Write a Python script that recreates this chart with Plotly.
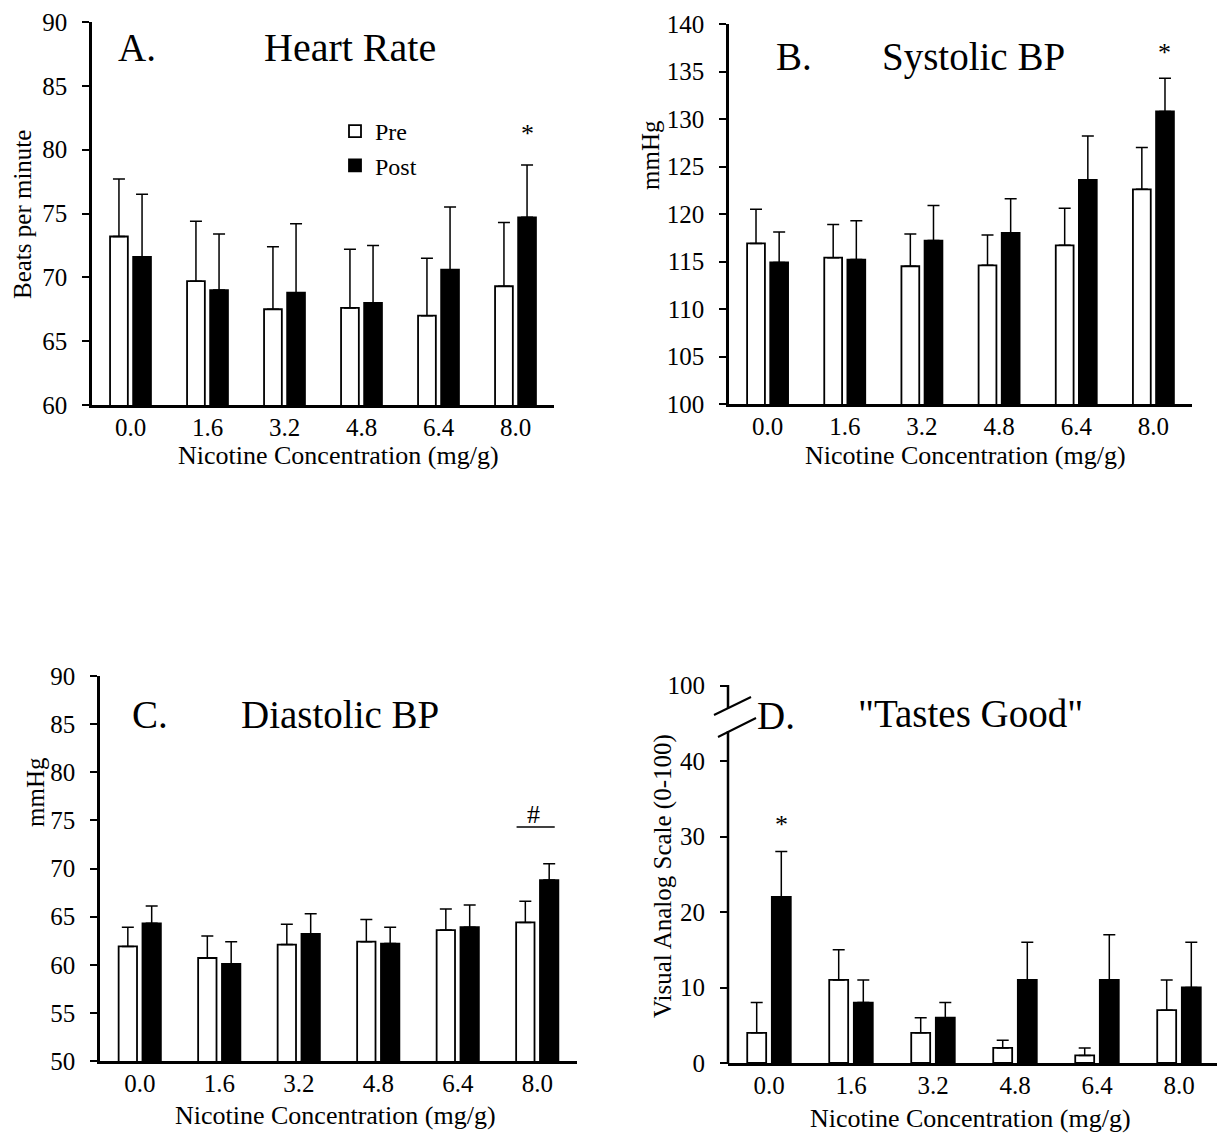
import plotly.graph_objects as go

# ---------------- data ----------------
categories = ["0.0", "1.6", "3.2", "4.8", "6.4", "8.0"]

hr_pre = [73.2, 69.7, 67.5, 67.6, 67.0, 69.3]
hr_pre_sem = [4.5, 4.7, 4.9, 4.6, 4.5, 5.0]
hr_post = [71.6, 69.0, 68.8, 68.0, 70.6, 74.7]
hr_post_sem = [4.9, 4.4, 5.4, 4.5, 4.9, 4.1]

sbp_pre = [116.9, 115.4, 114.5, 114.6, 116.7, 122.6]
sbp_pre_sem = [3.6, 3.5, 3.4, 3.2, 3.9, 4.4]
sbp_post = [114.9, 115.2, 117.2, 118.0, 123.6, 130.8]
sbp_post_sem = [3.2, 4.1, 3.7, 3.6, 4.6, 3.5]

dbp_pre = [61.9, 60.7, 62.1, 62.4, 63.6, 64.4]
dbp_pre_sem = [2.0, 2.3, 2.1, 2.3, 2.2, 2.2]
dbp_post = [64.3, 60.1, 63.2, 62.2, 63.9, 68.8]
dbp_post_sem = [1.8, 2.3, 2.1, 1.7, 2.3, 1.7]

vas_pre = [4, 11, 4, 2, 1, 7]
vas_pre_sem = [4, 4, 2, 1, 1, 4]
vas_post = [22, 8, 6, 11, 11, 10]
vas_post_sem = [6, 3, 2, 5, 6, 6]

series_names = ["Pre", "Post"]

hr_ticks = [60, 65, 70, 75, 80, 85, 90]
sbp_ticks = [100, 105, 110, 115, 120, 125, 130, 135, 140]
dbp_ticks = [50, 55, 60, 65, 70, 75, 80, 85, 90]
vas_tickvals = [0, 10, 20, 30, 40, 50]
vas_ticktext = ["0", "10", "20", "30", "40", "100"]

# ---------------- layout helpers ----------------
W, H = 1225, 1136
OFF = 8  # page body margin offset
FONT = "Liberation Serif"


def X(px):
    return (px - OFF) / W


def Y(py):
    return 1 - (py - OFF) / H


fig = go.Figure()

panels = [
    (hr_pre, hr_pre_sem, hr_post, hr_post_sem, "", True),
    (sbp_pre, sbp_pre_sem, sbp_post, sbp_post_sem, "2", False),
    (dbp_pre, dbp_pre_sem, dbp_post, dbp_post_sem, "3", False),
    (vas_pre, vas_pre_sem, vas_post, vas_post_sem, "4", False),
]

for pre, pre_sem, post, post_sem, sfx, sl in panels:
    fig.add_trace(go.Bar(
        x=categories, y=pre, name=series_names[0], legendgroup="pre",
        showlegend=sl, xaxis="x" + sfx, yaxis="y" + sfx,
        marker=dict(color="white", line=dict(color="black", width=1.8)),
        error_y=dict(type="data", array=pre_sem, arrayminus=[0] * len(pre),
                     symmetric=False, color="black", thickness=1.5, width=6),
    ))
    fig.add_trace(go.Bar(
        x=categories, y=post, name=series_names[1], legendgroup="post",
        showlegend=sl, xaxis="x" + sfx, yaxis="y" + sfx,
        marker=dict(color="black", line=dict(color="black", width=1.8)),
        error_y=dict(type="data", array=post_sem, arrayminus=[0] * len(post),
                     symmetric=False, color="black", thickness=1.5, width=6),
    ))

tickfont = dict(family=FONT, size=25, color="black")


def xaxis(dom, anchor):
    return dict(domain=dom, anchor=anchor, type="category",
                range=[-0.5, 5.5], showline=True, linecolor="black",
                linewidth=2.5, ticks="", showgrid=False, zeroline=False,
                tickfont=tickfont, ticklabelstandoff=-2, fixedrange=True,
                automargin=False)


def yaxis(dom, anchor, rng, tickvals, ticktext=None, showline=True):
    d = dict(domain=dom, anchor=anchor, range=rng, tickvals=tickvals,
             showline=showline, linecolor="black", linewidth=2.5,
             ticks="outside", ticklen=7, tickwidth=2, tickcolor="black",
             showgrid=False, zeroline=False, tickfont=tickfont,
             ticklabelstandoff=10, fixedrange=True, automargin=False)
    if ticktext is not None:
        d["ticktext"] = ticktext
    return d


fig.update_layout(
    width=W, height=H,
    margin=dict(l=0, r=0, t=0, b=0, autoexpand=False),
    paper_bgcolor="white", plot_bgcolor="white",
    barmode="group", bargap=0.4, bargroupgap=0.23,
    font=dict(family=FONT, color="black"),
    xaxis=xaxis([X(92), X(554)], "y"),
    yaxis=yaxis([Y(405), Y(22)], "x", [60, 90], hr_ticks),
    xaxis2=xaxis([X(729), X(1192)], "y2"),
    yaxis2=yaxis([Y(404), Y(24)], "x2", [100, 140], sbp_ticks),
    xaxis3=xaxis([X(100), X(577)], "y3"),
    yaxis3=yaxis([Y(1061), Y(676)], "x3", [50, 90], dbp_ticks),
    xaxis4=xaxis([X(728), X(1220)], "y4"),
    yaxis4=yaxis([Y(1063), Y(685.5)], "x4", [0, 50], vas_tickvals,
                 vas_ticktext, showline=False),
    legend=dict(x=X(335), y=Y(109), xanchor="left", yanchor="top",
                font=dict(family=FONT, size=24, color="black"),
                bgcolor="rgba(0,0,0,0)", itemwidth=30,
                tracegroupgap=9, traceorder="normal"),
    showlegend=True,
)

ann = []


def text_px(txt, cx, cy, size, angle=0):
    ann.append(dict(text=txt, x=X(cx), y=Y(cy), xref="paper", yref="paper",
                    xanchor="center", yanchor="middle", showarrow=False,
                    textangle=angle,
                    font=dict(family=FONT, size=size, color="black")))


# panel labels & titles
text_px("A.", 137, 47, 39)
text_px("Heart Rate", 350, 47, 40)
text_px("B.", 794, 57, 39)
text_px("Systolic BP", 973, 57, 39)
text_px("C.", 150, 714, 39)
text_px("Diastolic BP", 340, 714, 39)
text_px("D.", 776, 715, 39)
text_px('"Tastes Good"', 970, 713, 39)

# axis titles
xt = "Nicotine Concentration (mg/g)"
text_px(xt, 338, 456, 26)
text_px(xt, 965, 455, 26)
text_px(xt, 335, 1115, 26)
text_px(xt, 970, 1118, 26)
text_px("Beats per minute", 22, 215, 25, -90)
text_px("mmHg", 650, 155, 25, -90)
text_px("mmHg", 35, 792, 25, -90)
text_px("Visual Analog Scale (0-100)", 663, 876, 25, -90)

# significance markers (data coordinates)
for txt, xr, yr, xv, yv in [("*", "x", "y", 5.15, 81.3),
                            ("*", "x2", "y2", 5.15, 137.0),
                            ("*", "x4", "y4", 0.15, 31.6),
                            ("#", "x3", "y3", 4.95, 75.6)]:
    ann.append(dict(text=txt, x=xv, y=yv, xref=xr, yref=yr,
                    showarrow=False, xanchor="center", yanchor="middle",
                    font=dict(family=FONT, size=26, color="black")))
fig.update_layout(annotations=ann)

shapes = [
    dict(type="line", xref="x3", yref="y3", x0=4.74, x1=5.22, y0=74.3,
         y1=74.3, line=dict(color="black", width=1.5)),
]
# broken y axis for panel D
for (x0, y0, x1, y1) in [(728, 731, 728, 1064), (728, 685, 728, 708),
                         (714, 715, 751, 697), (718, 737, 756, 718)]:
    shapes.append(dict(type="line", xref="paper", yref="paper",
                       x0=X(x0), y0=Y(y0), x1=X(x1), y1=Y(y1),
                       line=dict(color="black", width=2.5 if x0 == x1 else 2)))
fig.update_layout(shapes=shapes)

fig.write_html("out.html")
